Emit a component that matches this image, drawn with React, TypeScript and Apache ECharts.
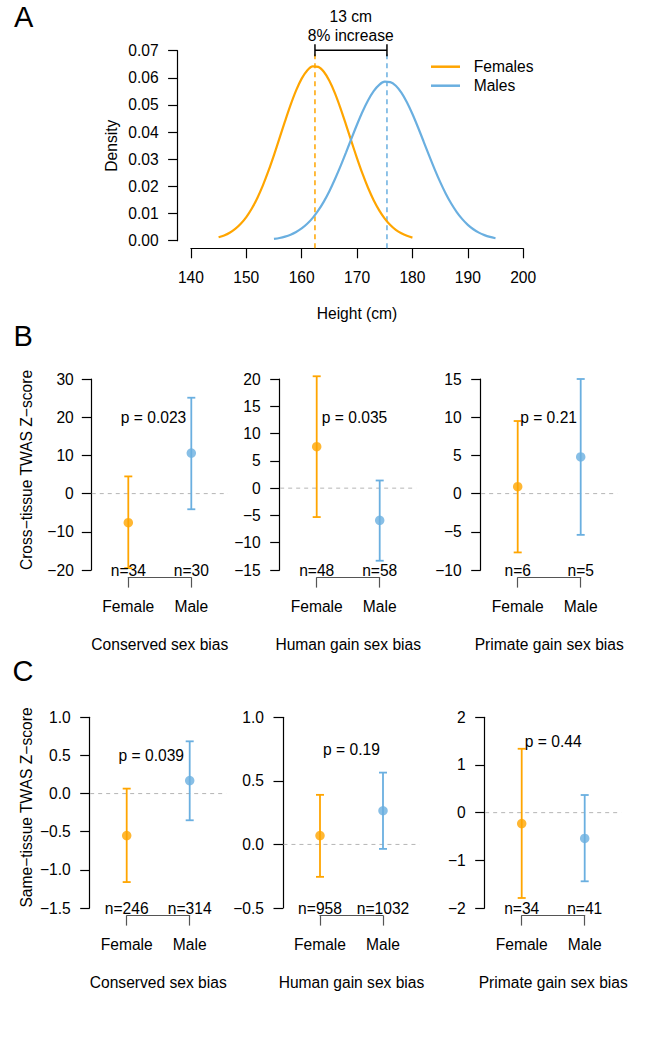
import React, { useEffect, useRef } from "react";
import * as echarts from "echarts";

// ---------- Panel A: height densities ----------
const femaleHeights = [145, 146, 147, 148, 149, 150, 151, 152, 153, 154, 155, 156, 157, 158, 159, 160, 161, 162, 163, 164, 165, 166, 167, 168, 169, 170, 171, 172, 173, 174, 175, 176, 177, 178, 179, 180];
const femaleDensity = [0.00125, 0.00195, 0.00294, 0.00434, 0.00623, 0.00871, 0.01187, 0.01576, 0.02039, 0.0257, 0.03156, 0.03777, 0.04403, 0.05002, 0.05536, 0.0597, 0.06272, 0.06421, 0.06404, 0.06223, 0.05892, 0.05436, 0.04886, 0.04279, 0.03651, 0.03035, 0.02459, 0.0194, 0.01492, 0.01118, 0.00816, 0.0058, 0.00402, 0.00272, 0.00179, 0.00114];
const maleHeights = [155, 156, 157, 158, 159, 160, 161, 162, 163, 164, 165, 166, 167, 168, 169, 170, 171, 172, 173, 174, 175, 176, 177, 178, 179, 180, 181, 182, 183, 184, 185, 186, 187, 188, 189, 190, 191, 192, 193, 194, 195];
const maleDensity = [0.00065, 0.001, 0.00151, 0.00222, 0.0032, 0.00451, 0.00623, 0.00842, 0.01113, 0.01439, 0.01822, 0.02262, 0.02736, 0.03245, 0.03768, 0.0428, 0.04759, 0.05177, 0.05513, 0.05744, 0.05857, 0.05844, 0.05707, 0.05453, 0.051, 0.04667, 0.04179, 0.03663, 0.03142, 0.02637, 0.02166, 0.01741, 0.01369, 0.01054, 0.00794, 0.00585, 0.00422, 0.00298, 0.00206, 0.00139, 0.00092];
const meanHeights = [162.4, 175.4];
const bracketLevel = 0.0702;
const sexNames = ["Females", "Males"];
const heightAxis = [140, 200, 10];
const densityAxis = [0, 0.07, 0.01];
const annotationLines = ["13 cm", "8% increase"];

// ---------- Panels B & C ----------
const groups = ["Female", "Male"];
const biasTypes = ["Conserved sex bias", "Human gain sex bias", "Primate gain sex bias"];

const crossMean = [[-7.6, 10.6], [7.6, -5.9], [0.9, 4.8]];
const crossLower = [[-19.5, -4.1], [-5.3, -13.3], [-7.7, -5.4]];
const crossUpper = [[4.5, 25.1], [20.5, 1.4], [9.5, 15.0]];
const crossN = [[34, 30], [48, 58], [6, 5]];
const crossP = ["0.023", "0.035", "0.21"];
const crossPAt = [[1.4, 20], [1.6, 13], [1.49, 10]];
const crossAxis = [[-20, 30, 10], [-15, 20, 5], [-10, 15, 5]];

const sameMean = [[-0.55, 0.17], [0.07, 0.265], [-0.23, -0.54]];
const sameLower = [[-1.16, -0.35], [-0.255, -0.035], [-1.79, -1.44]];
const sameUpper = [[0.065, 0.685], [0.39, 0.565], [1.34, 0.37]];
const sameN = [[246, 314], [958, 1032], [34, 41]];
const sameP = ["0.039", "0.19", "0.44"];
const samePAt = [[1.39, 0.5], [1.5, 0.75], [1.5, 1.5]];
const sameAxis = [[-1.5, 1, 0.5], [-0.5, 1, 0.5], [-2, 2, 1]];
const sameDecimals = [1, 1, 0];

const FEMALE = "#FFA500";
const MALE = "#6AAFE0";
const FONT = "'Liberation Sans', Arial, Helvetica, sans-serif";
const FS = 15.6;

function fmtNum(v: number, d: number) {
  const s = Math.abs(v).toFixed(d);
  return (v < -1e-9 ? "\u2212" : "") + s;
}

// custom series drawing straight segments between data points (not clipped)
function segmentSeries(gi: number, segs: number[][], stroke: string, width: number, dash: number[] | null) {
  return {
    type: "custom", xAxisIndex: gi, yAxisIndex: gi, clip: false, silent: true,
    data: segs,
    renderItem: (params: any, api: any) => {
      const a = api.coord([api.value(0), api.value(1)]);
      const b = api.coord([api.value(2), api.value(3)]);
      return {
        type: "line", shape: { x1: a[0], y1: a[1], x2: b[0], y2: b[1] },
        style: { stroke, lineWidth: width, lineDash: dash || undefined },
      };
    },
  };
}

function buildOption() {
  const grids: any[] = [];
  const xAxes: any[] = [];
  const yAxes: any[] = [];
  const series: any[] = [];

  const axisLineBlack = { show: true, onZero: false, lineStyle: { color: "#000", width: 1.2 } };
  const tickBlack = { show: true, length: 9.5, lineStyle: { color: "#000", width: 1.2 } };
  const labelBase = { color: "#000", fontSize: FS, fontFamily: FONT };

  // ---- Panel A ----
  grids.push({ left: 190.9, top: 50.7, width: 332.3, height: 190 });
  xAxes.push({
    gridIndex: 0, type: "value", min: heightAxis[0], max: heightAxis[1], interval: heightAxis[2],
    offset: 7.6, axisLine: axisLineBlack, axisTick: { ...tickBlack, length: 10 },
    axisLabel: { ...labelBase, margin: 21 }, splitLine: { show: false },
  });
  yAxes.push({
    gridIndex: 0, type: "value", min: densityAxis[0], max: densityAxis[1], interval: densityAxis[2],
    offset: 13.3, axisLine: axisLineBlack, axisTick: tickBlack,
    axisLabel: { ...labelBase, margin: 19, formatter: (v: number) => v.toFixed(2) }, splitLine: { show: false },
  });
  const densities = [
    femaleHeights.map((h, i) => [h, femaleDensity[i]]),
    maleHeights.map((h, i) => [h, maleDensity[i]]),
  ];
  [FEMALE, MALE].forEach((c, k) => {
    series.push(segmentSeries(0, [[meanHeights[k], -0.0028, meanHeights[k], bracketLevel]], c, 1.5, [5, 4]));
  });
  [FEMALE, MALE].forEach((c, k) => {
    series.push({
      type: "line", name: sexNames[k], xAxisIndex: 0, yAxisIndex: 0,
      data: densities[k], smooth: 0.3, symbol: "none", showSymbol: false,
      lineStyle: { color: c, width: 2.2 }, itemStyle: { color: c }, color: c, z: 2,
    });
  });
  series.push({
    type: "custom", xAxisIndex: 0, yAxisIndex: 0, clip: false, silent: true,
    data: [[meanHeights[0], meanHeights[1], bracketLevel]],
    renderItem: (params: any, api: any) => {
      const a = api.coord([api.value(0), api.value(2)]);
      const b = api.coord([api.value(1), api.value(2)]);
      const st = { stroke: "#000", lineWidth: 1.5 };
      return {
        type: "group", children: [
          { type: "line", shape: { x1: a[0], y1: a[1], x2: b[0], y2: b[1] }, style: st },
          { type: "line", shape: { x1: a[0], y1: a[1] - 6, x2: a[0], y2: a[1] + 6 }, style: st },
          { type: "line", shape: { x1: b[0], y1: b[1] - 6, x2: b[0], y2: b[1] + 6 }, style: st },
        ],
      };
    },
  });

  // ---- Panels B and C ----
  const panels = [
    { top: 379, height: 191, lefts: [128.3, 316.7, 517.7], mean: crossMean, lo: crossLower, hi: crossUpper, n: crossN, p: crossP, pAt: crossPAt, axis: crossAxis, dec: [0, 0, 0], margins: [17.5, 19, 19] },
    { top: 717.3, height: 190.7, lefts: [126.7, 320, 521.7], mean: sameMean, lo: sameLower, hi: sameUpper, n: sameN, p: sameP, pAt: samePAt, axis: sameAxis, dec: sameDecimals, margins: [19, 19, 19] },
  ];
  panels.forEach((pn) => {
    for (let i = 0; i < 3; i++) {
      const gi = grids.length;
      grids.push({ left: pn.lefts[i], top: pn.top, width: 63, height: pn.height });
      const d = pn.dec[i];
      xAxes.push({
        gridIndex: gi, type: "value", min: 1, max: 2, interval: 1, offset: 7.6,
        axisLine: { show: true, onZero: false, lineStyle: { color: "#555", width: 1.2 } },
        axisTick: { show: true, length: 10, lineStyle: { color: "#555", width: 1.2 } },
        axisLabel: { ...labelBase, margin: 21, formatter: (v: number) => groups[Math.round(v) - 1] || "" },
        splitLine: { show: false },
        name: biasTypes[i], nameLocation: "middle", nameGap: 58.5,
        nameTextStyle: { ...labelBase },
      });
      yAxes.push({
        gridIndex: gi, type: "value", min: pn.axis[i][0], max: pn.axis[i][1], interval: pn.axis[i][2],
        offset: 37, axisLine: axisLineBlack, axisTick: tickBlack,
        axisLabel: { ...labelBase, margin: pn.margins[i], formatter: (v: number) => fmtNum(v, d) },
        splitLine: { show: false },
      });
      // zero reference line
      series.push(segmentSeries(gi, [[0.42, 0, 2.58, 0]], "#B5B5B5", 1, [4, 4]));
      // error bars
      series.push({
        type: "custom", xAxisIndex: gi, yAxisIndex: gi, clip: false, silent: true,
        data: [[1, pn.lo[i][0], pn.hi[i][0]], [2, pn.lo[i][1], pn.hi[i][1]]],
        encode: { x: 0, y: [1, 2] },
        renderItem: (params: any, api: any) => {
          const x = api.value(0);
          const a = api.coord([x, api.value(1)]);
          const b = api.coord([x, api.value(2)]);
          const st = { stroke: params.dataIndex === 0 ? FEMALE : MALE, lineWidth: 1.8 };
          return {
            type: "group", children: [
              { type: "line", shape: { x1: a[0], y1: a[1], x2: b[0], y2: b[1] }, style: st },
              { type: "line", shape: { x1: a[0] - 4, y1: a[1], x2: a[0] + 4, y2: a[1] }, style: st },
              { type: "line", shape: { x1: b[0] - 4, y1: b[1], x2: b[0] + 4, y2: b[1] }, style: st },
            ],
          };
        },
      });
      // points
      series.push({
        type: "scatter", xAxisIndex: gi, yAxisIndex: gi, symbolSize: 9.5, silent: true,
        data: [
          { value: [1, pn.mean[i][0]], itemStyle: { color: FEMALE } },
          { value: [2, pn.mean[i][1]], itemStyle: { color: MALE } },
        ],
      });
      // n labels and p value
      const texts = ["n=" + pn.n[i][0], "n=" + pn.n[i][1], "p = " + pn.p[i]];
      series.push({
        type: "custom", xAxisIndex: gi, yAxisIndex: gi, clip: false, silent: true,
        data: [[1, pn.axis[i][0]], [2, pn.axis[i][0]], [pn.pAt[i][0], pn.pAt[i][1]]],
        renderItem: (params: any, api: any) => {
          const c = api.coord([api.value(0), api.value(1)]);
          return {
            type: "text", x: c[0], y: c[1],
            style: { text: texts[params.dataIndex], fill: "#000", fontSize: FS, fontFamily: FONT, align: "center", verticalAlign: "middle" },
          };
        },
      });
    }
  });

  const t = (text: string, x: number, y: number, extra: any = {}) => ({
    type: "text", x, y, ...(extra.rotation ? { rotation: extra.rotation } : {}),
    style: { text, fill: "#000", fontSize: extra.fontSize || FS, fontFamily: FONT, align: extra.align || "center", verticalAlign: "middle" },
  });

  const graphic = [
    t("A", 14, 16.5, { fontSize: 29, align: "left" }),
    t("B", 13.5, 335.5, { fontSize: 29, align: "left" }),
    t("C", 12.5, 671, { fontSize: 29, align: "left" }),
    t(annotationLines[0], 350.7, 16),
    t(annotationLines[1], 350.7, 35),
    t("Height (cm)", 357, 313),
    t("Density", 111.6, 145.7, { rotation: Math.PI / 2 }),
    t("Cross\u2212tissue TWAS Z\u2212score", 26.7, 470, { rotation: Math.PI / 2 }),
    t("Same\u2212tissue TWAS Z\u2212score", 26, 807.5, { rotation: Math.PI / 2 }),
  ];

  return {
    animation: false,
    backgroundColor: "#fff",
    textStyle: { fontFamily: FONT },
    legend: {
      data: sexNames, orient: "vertical", left: 426, top: 53.7, icon: "rect",
      itemWidth: 29, itemHeight: 2.5, itemGap: 3, selectedMode: false,
      textStyle: { color: "#000", fontSize: FS, fontFamily: FONT, lineHeight: 16, padding: [0, 0, 0, 8.7] },
    },
    grid: grids,
    xAxis: xAxes,
    yAxis: yAxes,
    series,
    graphic,
  };
}

export default function App() {
  const ref = useRef<HTMLDivElement>(null);
  useEffect(() => {
    if (!ref.current) return;
    const chart = echarts.init(ref.current, null, { renderer: "svg" });
    chart.setOption(buildOption() as any);
    return () => chart.dispose();
  }, []);
  return <div ref={ref} style={{ position: "absolute", left: 0, top: 0, width: 668, height: 1050, background: "#fff" }} />;
}
